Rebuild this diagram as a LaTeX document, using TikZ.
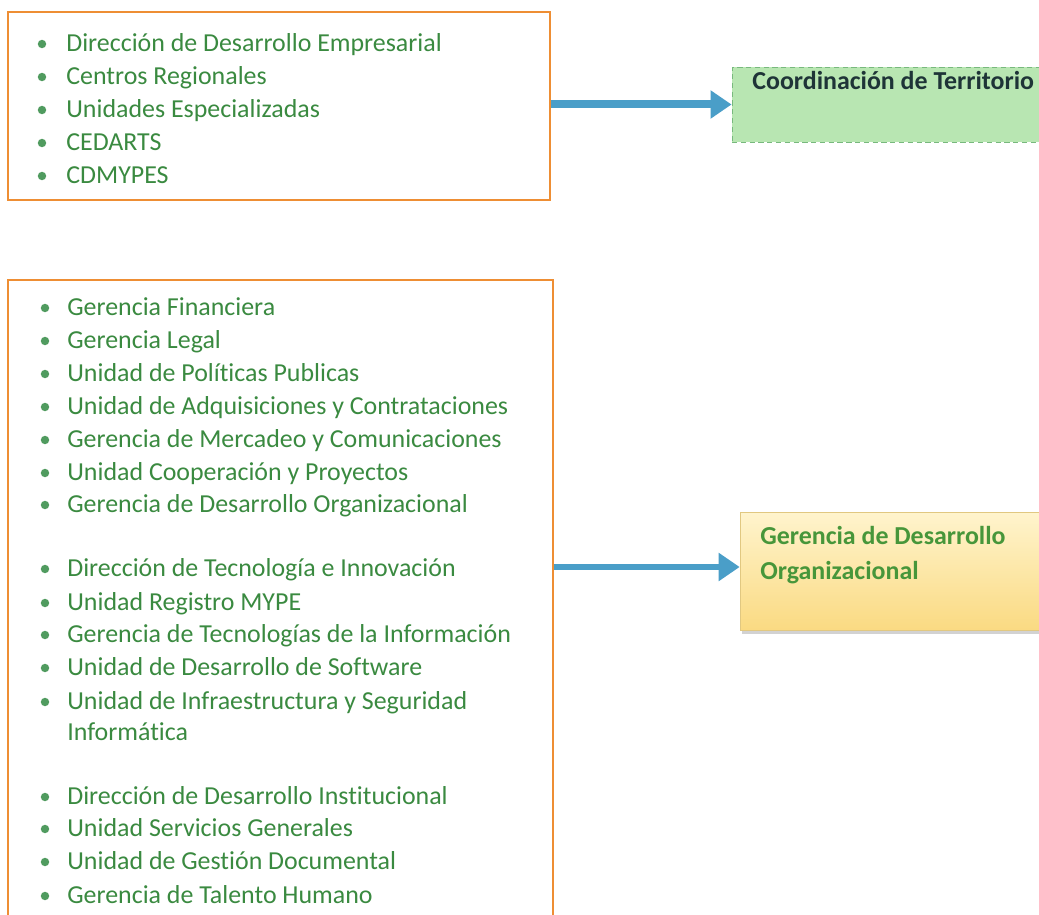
\documentclass[tikz,border=0pt]{standalone}
\usepackage{fontspec}
\setmainfont[Ligatures=NoCommon]{Carlito}
\usetikzlibrary{arrows.meta,shadows}

\definecolor{itemgreen}{RGB}{58,138,64}
\definecolor{dotgreen}{RGB}{80,155,95}
\definecolor{boxorange}{RGB}{238,142,52}
\definecolor{arrowblue}{RGB}{74,158,200}
\definecolor{terrfill}{RGB}{184,230,178}
\definecolor{terrline}{RGB}{120,185,125}
\definecolor{terrtext}{RGB}{30,52,55}
\definecolor{gdotop}{RGB}{255,244,205}
\definecolor{gdobottom}{RGB}{250,218,130}

\begin{document}
\begin{tikzpicture}[x=0.02cm,y=-0.02cm,
    listbox/.style={draw=boxorange,line width=1.1pt,inner sep=0pt},
    item/.style={anchor=mid west,inner sep=0pt,text=itemgreen,font=\fontsize{14.75}{18.8}\selectfont},
    bigarrow/.style={draw=arrowblue,-{Triangle[width=0.54cm,length=0.42cm]}},
    terrbox/.style={fill=terrfill,draw=terrline,densely dashed,line width=0.5pt,inner sep=0pt},
    gdobox/.style={top color=gdotop,bottom color=gdobottom,draw=gdobottom!80!gray,line width=0.4pt,
        drop shadow={shadow xshift=1pt,shadow yshift=-2pt,fill=black!35},inner sep=0pt},
    boxtext/.style={anchor=mid west,inner sep=0pt,align=left,font=\bfseries\fontsize{14.75}{19.9}\selectfont}]
    \useasboundingbox[fill=white] (0,0) rectangle (1039,915);

    % lists
    \node[listbox,minimum width=10.84cm,minimum height=3.76cm] at (279,106) (box1) {};
    \node[listbox,minimum width=10.9cm,minimum height=13cm] at (280.5,605) (box2) {};

    \foreach \y/\t [count=\i] in {44/Dirección de Desarrollo Empresarial,77/Centros Regionales,
        110/Unidades Especializadas,143/CEDARTS,176/CDMYPES}{
        \fill[dotgreen] (42,\y) circle (2.4pt);
        \node[item] at (66,\y+3) (a\i) {\t};
    }
    \foreach \y/\t [count=\i] in {308/Gerencia Financiera,341/Gerencia Legal,
        374/Unidad de Políticas Publicas,407/Unidad de Adquisiciones y Contrataciones,
        440/Gerencia de Mercadeo y Comunicaciones,473/Unidad Cooperación y Proyectos,
        505/Gerencia de Desarrollo Organizacional,
        569/Dirección de Tecnología e Innovación,603/Unidad Registro MYPE,
        635/Gerencia de Tecnologías de la Información,668/Unidad de Desarrollo de Software,
        702/Unidad de Infraestructura y Seguridad,
        797/Dirección de Desarrollo Institucional,829/Unidad Servicios Generales,
        862/Unidad de Gestión Documental,896/Gerencia de Talento Humano}{
        \fill[dotgreen] (45,\y) circle (2.4pt);
        \node[item] at (67,\y+3) (b\i) {\t};
    }
    \node[item] at (67,736) (b17) {Informática};

    % targets
    \node[terrbox,minimum width=6.56cm,minimum height=1.5cm] at (896,104.5) (terr) {};
    \node[boxtext,text=terrtext] at (752,85) (terrlabel) {Coordinación de Territorio};
    \node[gdobox,minimum width=6.4cm,minimum height=2.36cm] at (900,571) (gdo) {};
    \node[boxtext,text=itemgreen!90!lime,anchor=north west] at (760,526) (gdolabel) {Gerencia de Desarrollo\\Organizacional};

    \draw[bigarrow,line width=0.16cm] (box1.east |- terr.west) -- (terr.west);
    \draw[bigarrow,line width=0.13cm] (box2.east |- 0,567) -- (gdo.west |- 0,567);
\end{tikzpicture}
\end{document}
